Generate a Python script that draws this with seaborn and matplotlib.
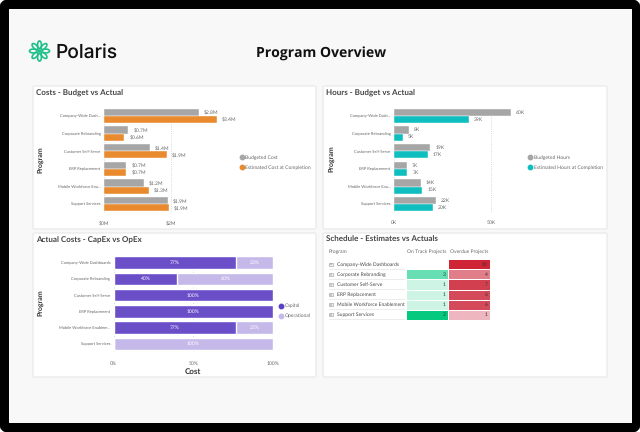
import matplotlib
matplotlib.use('Agg')
import matplotlib.pyplot as plt
from matplotlib.colors import LinearSegmentedColormap
from matplotlib.lines import Line2D
from matplotlib.patches import Circle, Ellipse, FancyBboxPatch, Rectangle
import numpy as np
import pandas as pd
import seaborn as sns

# data
short_programs = ['Company-Wide Dash...', 'Corporate Rebranding', 'Customer Self-Serve',
                  'ERP Replacement', 'Mobile Workforce Ena...', 'Support Services']
cap_programs = ['Company-Wide Dashboards', 'Corporate Rebranding', 'Customer Self-Serve',
                'ERP Replacement', 'Mobile Workforce Enablem...', 'Support Services']
full_programs = ['Company-Wide Dashboards', 'Corporate Rebranding', 'Customer Self-Serve',
                 'ERP Replacement', 'Mobile Workforce Enablement', 'Support Services']
budget_cost = [2.84, 0.73, 1.36, 0.67, 1.18, 1.90]
estimated_cost = [3.36, 0.61, 1.88, 0.67, 1.34, 1.93]
budget_hours = [60.1, 7.7, 18.7, 6.6, 13.9, 21.8]
estimated_hours = [38.7, 4.8, 17.4, 6.9, 14.6, 19.9]
capital = [77, 40, 100, 100, 77, 0]
operational = [23, 60, 0, 0, 23, 100]
on_track = [np.nan, 3, 1, 1, 1, 2]
on_track_shade = [np.nan, 0.6, 0.2, 0.2, 0.2, 1.0]  # cell tint does not follow the label
overdue = [10, 4, 7, 6, 6, 1]

W, H = 640, 432
GREY = '#a6a6a6'
ORANGE = '#e98a2f'
TEAL = '#0fbfc0'
PURPLE = '#6a4fc9'
LILAC = '#c5b9ea'
TICK = '#666666'
FONT = 'Lato'

sns.set_theme(style='white')
plt.rcParams['font.family'] = [FONT, 'DejaVu Sans']
plt.rcParams['text.hinting'] = 'no_hinting'
plt.rcParams['text.hinting_factor'] = 1

fig = plt.figure(figsize=(W / 100, H / 100), dpi=100, facecolor='white')


def px_axes(x0, y0, x1, y1, **kw):
    return fig.add_axes([x0 / W, 1 - y1 / H, (x1 - x0) / W, (y1 - y0) / H], **kw)


# page in pixel coordinates
bg = px_axes(0, 0, W, H, zorder=0)
bg.set_xlim(0, W)
bg.set_ylim(H, 0)
bg.axis('off')
bg.add_patch(FancyBboxPatch((1.5, 1.5), W - 3, H - 3, boxstyle='round,pad=0,rounding_size=7',
                            fc='black', ec='black', lw=3))
bg.add_patch(Rectangle((9, 9), 623, 414, fc='#f8f8f8', ec='none'))

panels = [(33, 86, 316, 229), (323, 86, 607, 229), (33, 233, 316, 377), (323, 233, 607, 377)]
titles = ['Costs - Budget vs Actual', 'Hours - Budget vs Actual',
          'Actual Costs - CapEx vs OpEx', 'Schedule - Estimates vs Actuals']
for (x0, y0, x1, y1), title in zip(panels, titles):
    bg.add_patch(FancyBboxPatch((x0, y0), x1 - x0, y1 - y0, boxstyle='round,pad=0,rounding_size=1.5',
                                fc='white', ec='#ebebeb', lw=1))
    bg.text(x0 + 3, y0 + 7, title, fontsize=5.9, fontweight='bold', color='#444444', va='center')

# logo
logo_c = (39.5, 51)
bg.add_patch(Circle(logo_c, 1.8, fc='#1fc08a', ec='none'))
for angle in np.arange(0, 360, 45):
    dx = 6.3 * np.cos(np.radians(angle))
    dy = 6.3 * np.sin(np.radians(angle))
    bg.add_patch(Ellipse((logo_c[0] + dx, logo_c[1] + dy), 7.5, 3.8, angle=angle,
                         fc='none', ec='#1fc08a', lw=1.2))
bg.text(55.5, 53, 'Polaris', fontsize=13.8, fontweight='medium', color='#111111', va='center',
        family='Inter')
bg.text(321, 54, 'Program Overview', fontsize=9.9, fontweight='bold', color='#111111',
        ha='center', va='center', family='Open Sans')


def budget_chart(box, values_a, values_b, names, colors, ticks, tick_labels, fmt, scale_end, leg_xy):
    ax = px_axes(*box)
    ax.patch.set_alpha(0)
    df = pd.DataFrame({'program': short_programs * 2,
                       'value': values_a + values_b,
                       'series': [names[0]] * 6 + [names[1]] * 6})
    sns.barplot(data=df, y='program', x='value', hue='series', palette=colors, width=0.8,
                saturation=1, ax=ax, legend=False, edgecolor='white', linewidth=0.3)
    ax.set_xlim(0, scale_end)
    for c in ax.containers:
        ax.bar_label(c, fmt=fmt, fontsize=3.4, color=TICK, padding=3.5)
    ax.set_xticks(ticks, tick_labels)
    ax.xaxis.grid(True, ls=':', lw=0.6, color='#cccccc')
    ax.set_axisbelow(True)
    ax.tick_params(axis='y', length=0, labelsize=3.2, labelcolor=TICK, pad=2.5)
    ax.tick_params(axis='x', length=0, labelsize=3.4, labelcolor=TICK, pad=5.5)
    ax.set_xlabel('')
    ax.set_ylabel('')
    sns.despine(ax=ax, left=True, bottom=True, top=True, right=True)
    handles = [Line2D([], [], ls='', marker='o', ms=3.2, color=c) for c in colors]
    ax.legend(handles, names, loc='center left', bbox_to_anchor=(leg_xy[0] / W, 1 - leg_xy[1] / H),
              bbox_transform=fig.transFigure, frameon=False, fontsize=3.75, labelcolor=TICK,
              labelspacing=1.05, handlelength=0.9, handletextpad=0.25, borderpad=0, borderaxespad=0)
    return ax


budget_chart((104, 107, 233, 213), budget_cost, estimated_cost,
             ['Budgeted Cost', 'Estimated Cost at Completion'], [GREY, ORANGE],
             [0, 2], ['$0M', '$2M'], lambda v: f'${v:.1f}M', 129 / 33.5, (239.5, 162.7))
budget_chart((394, 107, 520, 213), budget_hours, estimated_hours,
             ['Budgeted Hours', 'Estimated Hours at Completion'], [GREY, TEAL],
             [0, 50], ['0K', '50K'], lambda v: f'{v:.0f}K', 126 / 1.94, (528, 162.7))
bg.text(40, 160, 'Program', rotation=90, fontsize=5.2, fontweight='bold', color='#333333',
        ha='center', va='center')
bg.text(331, 159, 'Program', rotation=90, fontsize=5.2, fontweight='bold', color='#333333',
        ha='center', va='center')

# capex / opex: light bar for the whole, capital over it
ax3 = px_axes(113.7, 254.5, 273, 352)
total = [c + o for c, o in zip(capital, operational)]
sns.barplot(y=cap_programs, x=total, color=LILAC, saturation=1, width=0.78, ax=ax3)
sns.barplot(y=cap_programs, x=capital, color=PURPLE, saturation=1, width=0.78, ax=ax3)
ax3.set_xlim(0, 100)
for i, (c, o) in enumerate(zip(capital, operational)):
    if c:
        ax3.text(c / 2, i, f'{c}%', color='white', fontsize=3.4, ha='center', va='center')
    if o:
        ax3.text(c + o / 2, i, f'{o}%', color='white', fontsize=3.4, ha='center', va='center')
ax3.set_xticks([0, 50, 100], ['0%', '50%', '100%'])
ax3.xaxis.grid(True, ls=':', lw=0.6, color='#cccccc')
ax3.set_axisbelow(True)
ax3.tick_params(axis='y', length=0, labelsize=3.2, labelcolor=TICK, pad=2.5)
ax3.tick_params(axis='x', length=0, labelsize=3.4, labelcolor=TICK, pad=6.5)
ax3.set_xlabel('Cost', fontsize=6, fontweight='bold', color='#333333', labelpad=2)
ax3.set_ylabel('')
sns.despine(ax=ax3, left=True, bottom=True)
bg.text(40, 303, 'Program', rotation=90, fontsize=5.2, fontweight='bold', color='#333333',
        ha='center', va='center')
cap_handles = [Line2D([], [], ls='', marker='o', ms=3.2, color=c) for c in ['#5b3fc4', LILAC]]
ax3.legend(cap_handles, ['Capital', 'Operational'], loc='center left',
           bbox_to_anchor=(279 / W, 1 - 311 / H), bbox_transform=fig.transFigure, frameon=False,
           fontsize=3.75, labelcolor=TICK, labelspacing=1.05, handlelength=0.9, handletextpad=0.25,
           borderpad=0, borderaxespad=0)

# schedule matrix: one heatmap per column because each has its own scale
green = LinearSegmentedColormap.from_list('on_track', ['#ffffff', '#04c97f'])
red = LinearSegmentedColormap.from_list('overdue', [(0, '#ffffff'), (0.1, '#eeb5bd'), (0.4, '#e07f8a'),
                                                    (0.6, '#d44a5a'), (0.7, '#d2404f'), (1, '#cf2336')])
columns = [('On Track Projects', on_track, on_track_shade, green, 406, 448, 1),
           ('Overdue Projects', overdue, overdue, red, 448, 490, 10)]
for header, vals, shade, cmap, x0, x1, vmax in columns:
    ax = px_axes(x0, 259.3, x1, 319.7)
    table = pd.DataFrame({header: shade}, index=full_programs)
    labels = np.array([[f'{v:.0f}' if v == v else ''] for v in vals])
    sns.heatmap(table, cmap=cmap, vmin=0, vmax=vmax, cbar=False, annot=labels, fmt='',
                annot_kws={'fontsize': 3.8, 'color': '#333333'}, linewidths=0.4, linecolor='white',
                yticklabels=False, ax=ax)
    for t in ax.texts:
        t.set_ha('right')
        t.set_x(0.95)
    ax.xaxis.tick_top()
    ax.tick_params(axis='x', length=0, labelsize=3.5, labelcolor=TICK, pad=3.5)
    ax.set_ylabel('')

row_h = 10.07
bg.text(329, 252, 'Program', fontsize=3.5, color=TICK, va='center')
for i, name in enumerate(full_programs):
    y = 259.3 + row_h * (i + 0.5)
    bg.add_patch(Rectangle((329, y + row_h / 2 - 0.3), 76, 0.6, fc='#ececec', ec='none'))
    bg.add_patch(Rectangle((329.2, y - 1.6), 3.4, 3.4, fc='#f4f4f4', ec='#999999', lw=0.4))
    bg.plot([330, 331.8], [y + 0.1, y + 0.1], color='#777777', lw=0.3)
    bg.plot([330.9, 330.9], [y - 0.8, y + 1], color='#777777', lw=0.3)
    bg.text(337, y, name, fontsize=3.9, color='#444444', va='center')

fig.savefig('out.png', dpi=100)
